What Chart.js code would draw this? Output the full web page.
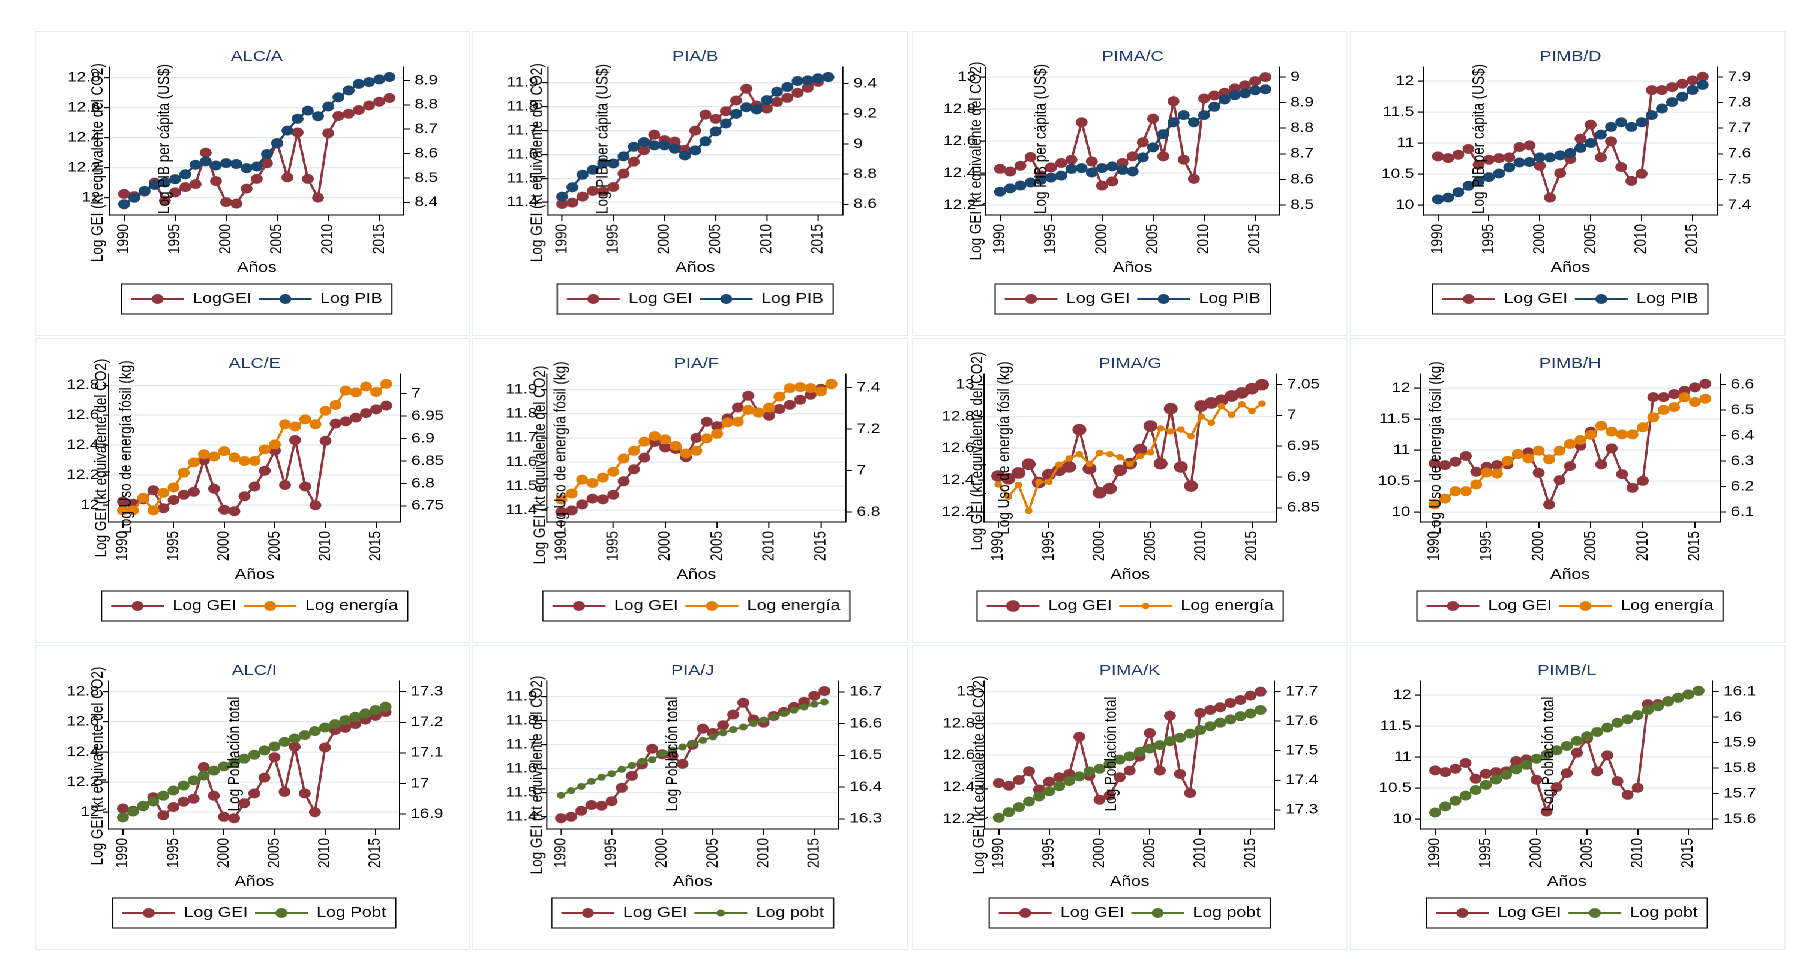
<!DOCTYPE html>
<html>
<head>
<meta charset="utf-8">
<script src="https://cdn.jsdelivr.net/npm/chart.js@4"></script>
<style>
html, body { margin: 0; padding: 0; background: #fff; }
#page { position: absolute; left: 0; top: 0; height: 967px; transform-origin: 0 0; }
.panel { position: absolute; background: #fff; box-shadow: inset 0 0 0 1px #e4ebef; }
</style>
</head>
<body>
<div id="page"></div>
<script>
// values, 1990-2016
const years = [1990, 1991, 1992, 1993, 1994, 1995, 1996, 1997, 1998, 1999, 2000, 2001, 2002, 2003,
  2004, 2005, 2006, 2007, 2008, 2009, 2010, 2011, 2012, 2013, 2014, 2015, 2016];

const geiALC = [12.025, 12.01, 12.04, 12.10, 11.98, 12.035, 12.07, 12.09, 12.30, 12.11, 11.97, 11.96, 12.06, 12.125,
  12.23, 12.365, 12.135, 12.435, 12.125, 12.0, 12.43, 12.545, 12.56, 12.585, 12.615, 12.64, 12.665];
const geiPIA = [11.393, 11.399, 11.424, 11.448, 11.445, 11.464, 11.52, 11.57, 11.618, 11.683, 11.66, 11.654, 11.62, 11.70,
  11.767, 11.749, 11.781, 11.826, 11.875, 11.805, 11.792, 11.82, 11.837, 11.858, 11.879, 11.904, 11.924];
const geiPIMA = [12.426, 12.409, 12.445, 12.50, 12.385, 12.435, 12.462, 12.483, 12.717, 12.472, 12.321, 12.347, 12.462, 12.504,
  12.592, 12.74, 12.504, 12.849, 12.483, 12.363, 12.866, 12.885, 12.902, 12.929, 12.948, 12.975, 13.0];
const geiPIMB = [10.784, 10.757, 10.811, 10.903, 10.649, 10.73, 10.757, 10.768, 10.935, 10.962, 10.632, 10.119, 10.514, 10.74,
  11.07, 11.297, 10.768, 11.027, 10.611, 10.389, 10.503, 11.854, 11.854, 11.903, 11.957, 12.011, 12.07];

const pibALC = [8.392, 8.419, 8.447, 8.471, 8.482, 8.495, 8.515, 8.554, 8.568, 8.551, 8.561, 8.557, 8.54, 8.547,
  8.598, 8.642, 8.694, 8.743, 8.776, 8.753, 8.793, 8.831, 8.859, 8.886, 8.893, 8.904, 8.914];
const pibPIA = [8.651, 8.713, 8.796, 8.829, 8.873, 8.871, 8.918, 8.982, 9.013, 8.991, 8.991, 8.969, 8.924, 8.958,
  9.018, 9.084, 9.136, 9.2, 9.244, 9.229, 9.291, 9.347, 9.378, 9.418, 9.422, 9.436, 9.444];
const pibPIMA = [8.552, 8.565, 8.576, 8.588, 8.598, 8.607, 8.615, 8.641, 8.644, 8.627, 8.644, 8.651, 8.637, 8.631,
  8.686, 8.725, 8.777, 8.823, 8.851, 8.823, 8.851, 8.884, 8.912, 8.929, 8.936, 8.948, 8.952];
const pibPIMB = [7.422, 7.429, 7.45, 7.475, 7.492, 7.509, 7.523, 7.547, 7.566, 7.568, 7.586, 7.586, 7.594, 7.603,
  7.623, 7.642, 7.675, 7.705, 7.723, 7.705, 7.723, 7.751, 7.777, 7.802, 7.823, 7.849, 7.869];

const enerALC = [6.740, 6.740, 6.768, 6.740, 6.779, 6.791, 6.824, 6.847, 6.865, 6.86, 6.872, 6.858, 6.85, 6.85,
  6.876, 6.887, 6.932, 6.927, 6.943, 6.932, 6.962, 6.975, 7.007, 7.003, 7.016, 7.004, 7.022];
const enerPIA = [6.86, 6.889, 6.956, 6.94, 6.966, 6.994, 7.058, 7.095, 7.139, 7.166, 7.15, 7.119, 7.082, 7.095,
  7.155, 7.177, 7.232, 7.235, 7.292, 7.279, 7.303, 7.356, 7.397, 7.402, 7.397, 7.381, 7.416];
const enerPIMA = [6.888, 6.868, 6.887, 6.845, 6.892, 6.892, 6.92, 6.93, 6.937, 6.921, 6.939, 6.937, 6.932, 6.921,
  6.934, 6.94, 6.979, 6.974, 6.977, 6.966, 6.998, 6.988, 7.015, 7.001, 7.018, 7.007, 7.019];
const enerPIMB = [6.13, 6.153, 6.182, 6.182, 6.208, 6.255, 6.251, 6.301, 6.328, 6.311, 6.341, 6.307, 6.341, 6.367,
  6.383, 6.403, 6.439, 6.416, 6.405, 6.405, 6.433, 6.472, 6.501, 6.512, 6.551, 6.532, 6.545];

const pobALC = [16.889, 16.908, 16.927, 16.941, 16.96, 16.977, 16.993, 17.01, 17.026, 17.042, 17.056, 17.068, 17.081, 17.094,
  17.108, 17.121, 17.136, 17.147, 17.158, 17.171, 17.183, 17.194, 17.207, 17.218, 17.229, 17.24, 17.251];
const pobPIA = [16.374, 16.389, 16.402, 16.418, 16.431, 16.442, 16.456, 16.468, 16.481, 16.486, 16.505, 16.516, 16.526, 16.537,
  16.547, 16.558, 16.571, 16.581, 16.589, 16.6, 16.611, 16.621, 16.632, 16.642, 16.652, 16.661, 16.668];
const pobPIMA = [17.273, 17.292, 17.309, 17.328, 17.345, 17.363, 17.38, 17.397, 17.413, 17.43, 17.439, 17.456, 17.47, 17.481,
  17.496, 17.507, 17.519, 17.532, 17.544, 17.558, 17.57, 17.583, 17.595, 17.606, 17.617, 17.626, 17.638];
const pobPIMB = [15.626, 15.65, 15.672, 15.692, 15.714, 15.734, 15.755, 15.774, 15.795, 15.813, 15.837, 15.853, 15.87, 15.887,
  15.907, 15.925, 15.942, 15.959, 15.978, 15.992, 16.008, 16.028, 16.043, 16.061, 16.076, 16.089, 16.103];

// tick labels
const yearTicks = [1990, 1995, 2000, 2005, 2010, 2015];
const ticksGeiALC = [12, 12.2, 12.4, 12.6, 12.8];
const ticksGeiPIA = [11.4, 11.5, 11.6, 11.7, 11.8, 11.9];
const ticksGeiPIMA = [12.2, 12.4, 12.6, 12.8, 13];
const ticksGeiPIMB = [10, 10.5, 11, 11.5, 12];
const ticksPibALC = [8.4, 8.5, 8.6, 8.7, 8.8, 8.9];
const ticksPibPIA = [8.6, 8.8, 9, 9.2, 9.4];
const ticksPibPIMA = [8.5, 8.6, 8.7, 8.8, 8.9, 9];
const ticksPibPIMB = [7.4, 7.5, 7.6, 7.7, 7.8, 7.9];
const ticksEnerALC = [6.75, 6.8, 6.85, 6.9, 6.95, 7];
const ticksEnerPIA = [6.8, 7, 7.2, 7.4];
const ticksEnerPIMA = [6.85, 6.9, 6.95, 7, 7.05];
const ticksEnerPIMB = [6.1, 6.2, 6.3, 6.4, 6.5, 6.6];
const ticksPobALC = [16.9, 17, 17.1, 17.2, 17.3];
const ticksPobPIA = [16.3, 16.4, 16.5, 16.6, 16.7];
const ticksPobPIMA = [17.3, 17.4, 17.5, 17.6, 17.7];
const ticksPobPIMB = [15.6, 15.7, 15.8, 15.9, 16, 16.1];

const tGei = 'Log GEI (kt equivalente del CO2)';
const tPib = 'Log PIB per cápita (US$)';
const tEner = 'Log Uso de energía fósil (kg)';
const tPob = 'Log Población total';

const maroon = '#90353B', navy = '#1A476F', orange = '#E37E00', green = '#55752F';

// the reference looks stretched sideways, so the page is drawn narrow and widened
const S = 1.2;
const PW = 436, PH = 305;
const colX = [35, 472, 912, 1350];
const rowY = [31, 338, 645];
const FONT = "'Liberation Sans', Arial, Helvetica, sans-serif";

Chart.defaults.font.family = FONT;
Chart.defaults.color = '#000';

const panels = [
  {title: 'ALC/A', a: geiALC, b: pibALC, bc: navy, l1: 'LogGEI', l2: 'Log PIB', ta: ticksGeiALC, tb: ticksPibALC,
    ra: [11.884, 12.872], rb: [8.348, 8.955], e: [75, 369], t1: [-11.7, 95.7], t2: [55, 72], t2text: tPib},
  {title: 'PIA/B', a: geiPIA, b: pibPIA, bc: navy, l1: 'Log GEI', l2: 'Log PIB', ta: ticksGeiPIA, tb: ticksPibPIA,
    ra: [11.347, 11.966], rb: [8.529, 9.511], e: [76, 370], t1: [-10, 95.7], t2: [55, 72], t2text: tPib},
  {title: 'PIMA/C', a: geiPIMA, b: pibPIMA, bc: navy, l1: 'Log GEI', l2: 'Log PIB', ta: ticksGeiPIMA, tb: ticksPibPIMA,
    ra: [12.137, 13.063], rb: [8.461, 9.039], e: [73.7, 367.7], t1: [-9.3, 94], t2: [55.7, 72], t2text: tPib},
  {title: 'PIMB/D', a: geiPIMB, b: pibPIMB, bc: navy, l1: 'Log GEI', l2: 'Log PIB', ta: ticksGeiPIMB, tb: ticksPibPIMB,
    ra: [9.838, 12.227], rb: [7.361, 7.939], e: [73.7, 367], t1: null, t2: [55.7, 72], t2text: tPib},
  {title: 'ALC/E', a: geiALC, b: enerALC, bc: orange, l1: 'Log GEI', l2: 'Log energía', ta: ticksGeiALC, tb: ticksEnerALC,
    ra: [11.888, 12.876], rb: [6.714, 7.044], e: [74, 365.7], t1: [-7.3, 84], t2: [17.7, 73], t2text: tEner},
  {title: 'PIA/F', a: geiPIA, b: enerPIA, bc: orange, l1: 'Log GEI', l2: 'Log energía', ta: ticksGeiPIA, tb: ticksEnerPIA,
    ra: [11.351, 11.965], rb: [6.752, 7.465], e: [75, 373.3], t1: [-6.3, 91], t2: [14.3, 74], t2text: tEner},
  {title: 'PIMA/G', a: geiPIMA, b: enerPIMA, bc: orange, l1: 'Log GEI', l2: 'Log energía', ta: ticksGeiPIMA, tb: ticksEnerPIMA,
    ra: [12.137, 13.067], rb: [6.827, 7.067], e: [72, 364.3], t1: [-6, 77], t2: [20.7, 74], t2text: tEner, r1: 5.8, r2: 3.2},
  {title: 'PIMB/H', a: geiPIMB, b: enerPIMB, bc: orange, l1: 'Log GEI', l2: 'Log energía', ta: ticksGeiPIMB, tb: ticksEnerPIMB,
    ra: [9.838, 12.227], rb: [6.061, 6.642], e: [70, 370], t1: null, t2: [16, 74], t2text: tEner},
  {title: 'ALC/I', a: geiALC, b: pobALC, bc: green, l1: 'Log GEI', l2: 'Log Pobt', ta: ticksGeiALC, tb: ticksPobALC,
    ra: [11.889, 12.871], rb: [16.851, 17.335], e: [74, 365], t1: [-10.7, 85], t2: [126, 73], t2text: tPob},
  {title: 'PIA/J', a: geiPIA, b: pobPIA, bc: green, l1: 'Log GEI', l2: 'Log pobt', ta: ticksGeiPIA, tb: ticksPobPIA,
    ra: [11.348, 11.966], rb: [16.268, 16.734], e: [75, 366], t1: [-9, 94], t2: [126, 73], t2text: tPob, r2: 3.5},
  {title: 'PIMA/K', a: geiPIMA, b: pobPIMA, bc: green, l1: 'Log GEI', l2: 'Log pobt', ta: ticksGeiPIMA, tb: ticksPobPIMA,
    ra: [12.137, 13.067], rb: [17.235, 17.736], e: [72.7, 362.7], t1: [-5, 94], t2: [126.7, 73], t2text: tPob},
  {title: 'PIMB/L', a: geiPIMB, b: pobPIMB, bc: green, l1: 'Log GEI', l2: 'Log pobt', ta: ticksGeiPIMB, tb: ticksPobPIMB,
    ra: [9.838, 12.227], rb: [15.561, 16.142], e: [71, 362.7], t1: null, t2: [127.7, 73], t2text: tPob}
];

const fmt = v => String(Math.round(v * 1000) / 1000);

// rotated axis titles at Stata's odd places, plus the framed legend with markers
const stataExtras = {
  id: 'stataExtras',
  afterDraw(chart, args, opts) {
    const ctx = chart.ctx, a = chart.chartArea;
    ctx.save();
    ctx.fillStyle = '#000';
    ctx.font = '13.5px ' + FONT;
    ctx.textAlign = 'center';
    ctx.textBaseline = 'middle';
    opts.titles.forEach(t => {
      ctx.save();
      ctx.translate(a.left + t.dx / S, a.top + t.dy);
      ctx.rotate(-Math.PI / 2);
      ctx.fillText(t.text, 0, 0);
      ctx.restore();
    });

    const lg = chart.legend;
    const bw = lg.options.labels.pointStyleWidth;
    let l = Infinity, r = -Infinity, cy = 0;
    lg.legendHitBoxes.forEach((hb, i) => {
      const ds = chart.data.datasets[i];
      cy = hb.top + hb.height / 2;
      ctx.beginPath();
      ctx.arc(hb.left + bw / 2, cy, ds.pointRadius, 0, Math.PI * 2);
      ctx.fillStyle = ds.borderColor;
      ctx.fill();
      l = Math.min(l, hb.left);
      r = Math.max(r, hb.left + hb.width);
    });
    ctx.strokeStyle = '#000';
    ctx.lineWidth = 1;
    ctx.strokeRect(l - 8, cy - 15, r - l + 16, 30);
    ctx.restore();
  }
};

const page = document.getElementById('page');
page.style.width = (1798 / S) + 'px';
page.style.transform = 'scaleX(' + S + ')';

panels.forEach((p, k) => {
  const div = document.createElement('div');
  div.className = 'panel';
  div.style.left = (colX[k % 4] / S) + 'px';
  div.style.top = rowY[Math.floor(k / 4)] + 'px';
  div.style.width = (PW / S) + 'px';
  div.style.height = PH + 'px';
  const cv = document.createElement('canvas');
  div.appendChild(cv);
  page.appendChild(div);

  // centre the title and legend on the plot region, as Stata does
  const W = PW / S, L = p.e[0] / S, R = p.e[1] / S;
  const diff = L + R - W;
  const padL = Math.max(diff, 0), padR = Math.max(-diff, 0);
  const wL = L - padL, wR = W - padR - R;

  const titles = [];
  if (p.t1) titles.push({text: tGei, dx: p.t1[0], dy: p.t1[1]});
  titles.push({text: p.t2text, dx: p.t2[0], dy: p.t2[1]});

  new Chart(cv, {
    type: 'line',
    data: {
      datasets: [
        {label: p.l1, data: years.map((y, i) => ({x: y, y: p.a[i]})), yAxisID: 'y',
          borderColor: maroon, backgroundColor: maroon, pointBackgroundColor: maroon, pointBorderColor: maroon,
          pointRadius: p.r1 || 5, pointBorderWidth: 0, borderWidth: 2, order: 1},
        {label: p.l2, data: years.map((y, i) => ({x: y, y: p.b[i]})), yAxisID: 'y1',
          borderColor: p.bc, backgroundColor: p.bc, pointBackgroundColor: p.bc, pointBorderColor: p.bc,
          pointRadius: p.r2 || 5, pointBorderWidth: 0, borderWidth: 2, order: 0}
      ]
    },
    options: {
      responsive: true,
      maintainAspectRatio: false,
      animation: false,
      devicePixelRatio: 2,
      events: [],
      layout: {padding: {left: padL, right: padR, top: 0, bottom: 19.75}},
      scales: {
        x: {
          type: 'linear', min: 1988.6, max: 2017.4,
          afterBuildTicks: s => { s.ticks = yearTicks.map(v => ({value: v})); },
          afterFit: s => { s.height = 70.75; },
          ticks: {minRotation: 90, maxRotation: 90, autoSkip: false, padding: 3, font: {size: 13.5}, callback: fmt},
          grid: {drawOnChartArea: false, drawTicks: true, tickLength: 6, color: '#000', tickColor: '#000'},
          border: {display: true, color: '#000', width: 1},
          title: {display: true, text: 'Años', color: '#000', font: {size: 14.5}, padding: {top: 0, bottom: 9}}
        },
        y: {
          position: 'left', min: p.ra[0], max: p.ra[1],
          afterBuildTicks: s => { s.ticks = p.ta.map(v => ({value: v})); },
          afterFit: s => { s.width = wL; },
          ticks: {padding: 3, font: {size: 14}, callback: fmt},
          grid: {color: '#e2eaef', lineWidth: 1.2, tickColor: '#000', tickLength: 5},
          border: {display: true, color: '#000', width: 1}
        },
        y1: {
          position: 'right', min: p.rb[0], max: p.rb[1],
          afterBuildTicks: s => { s.ticks = p.tb.map(v => ({value: v})); },
          afterFit: s => { s.width = wR; },
          ticks: {padding: 4, font: {size: 14}, callback: fmt},
          grid: {drawOnChartArea: false, tickColor: '#000', tickLength: 5},
          border: {display: true, color: '#000', width: 1}
        }
      },
      plugins: {
        title: {display: true, text: p.title, color: '#1C3A6E', font: {size: 15, weight: 'normal'},
          padding: {top: 17, bottom: 1}},
        legend: {
          position: 'bottom',
          labels: {
            usePointStyle: true, pointStyleWidth: 44, padding: 6, color: '#000', font: {size: 14.5},
            generateLabels: chart => chart.data.datasets.map((ds, i) => ({
              text: ds.label, fillStyle: ds.borderColor, strokeStyle: ds.borderColor, lineWidth: 2,
              pointStyle: 'line', hidden: false, datasetIndex: i, fontColor: '#000'
            }))
          }
        },
        tooltip: {enabled: false},
        stataExtras: {titles: titles}
      }
    },
    plugins: [stataExtras]
  });
});
</script>
</body>
</html>
